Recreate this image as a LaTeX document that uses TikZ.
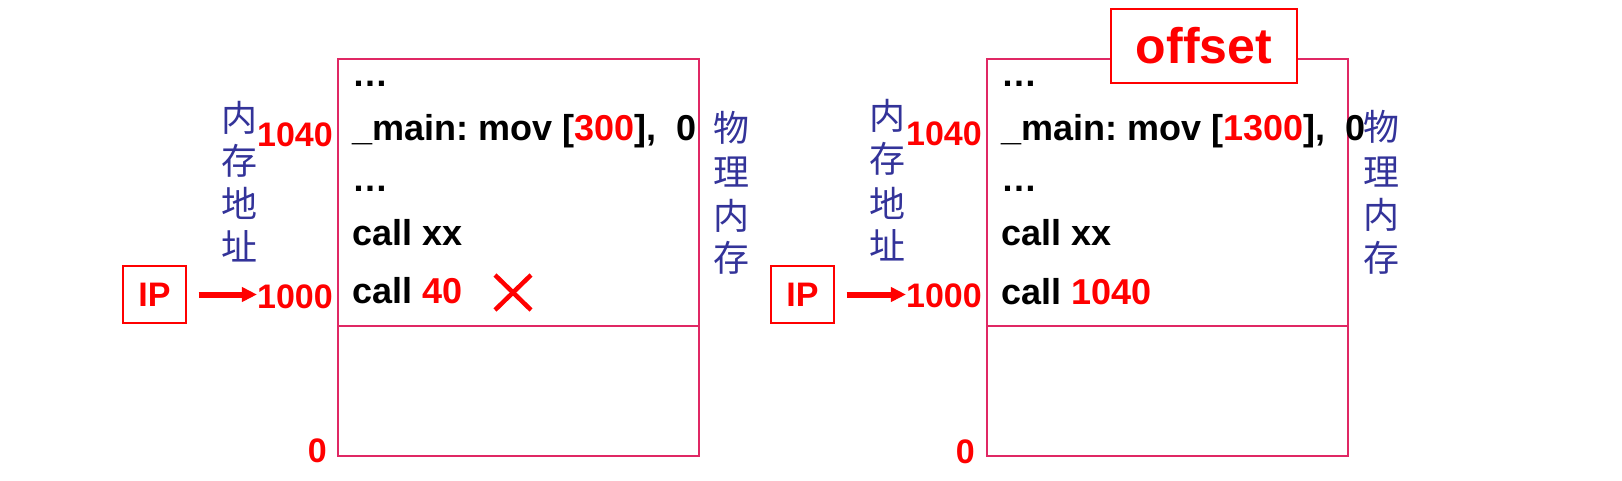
\documentclass[tikz,border=0pt]{standalone}
\usepackage{fontspec}
\setmainfont{Liberation Sans}
\newfontfamily\cjkfnt{Noto Sans CJK SC}
\usetikzlibrary{arrows.meta}
\definecolor{memc}{RGB}{224,40,100}
\definecolor{cjkblue}{RGB}{51,51,153}
\definecolor{xred}{RGB}{255,0,0}
\frenchspacing
\begin{document}
\begin{tikzpicture}[x=1pt,y=-1pt,
  memline/.style={draw=memc,line width=1.6pt},
  code/.style={anchor=base west,inner sep=0pt,font=\fontsize{36}{40}\selectfont\bfseries},
  addr/.style={anchor=base east,inner sep=0pt,text=xred,font=\fontsize{34}{40}\selectfont\bfseries},
  ipbox/.style={draw=xred,line width=1.3pt,minimum width=63pt,minimum height=57pt,inner sep=0pt,text=xred,font=\fontsize{34}{40}\selectfont\bfseries},
  ipar/.style={draw=xred,line width=6pt,-{Triangle[length=15pt,width=14pt]},shorten <=12pt},
  cjkch/.style={inner sep=0pt,text=cjkblue,font=\fontsize{36}{40}\selectfont\cjkfnt},
  xmark/.style={draw=xred,line width=4.5pt},
  offbox/.style={draw=xred,fill=white,line width=1.5pt,minimum width=186pt,minimum height=74pt,inner sep=0pt,text=xred,font=\fontsize{50}{56}\selectfont\bfseries}
]
\useasboundingbox (0,0) rectangle (1622,480);

% ---------- left memory ----------
\draw[memline] (338,59) rectangle (699,456);
\draw[memline] (338,326) -- (699,326);
\node[code] (l1) at (352,86) {…};
\node[code] (l2) at (352,140) {\_main: mov [{\color{xred}300}],\ \ 0};
\node[code] (l3) at (352,191) {…};
\node[code] (l4) at (352,245) {call xx};
\node[code] (l5) at (352,303) {call {\color{xred}40}};
\draw[xmark] (495,275) -- (531,310) (495,310) -- (531,275);

\node[addr] (a1040L) at (333,146) {1040};
\node[addr] (a1000L) at (333,308) {1000};
\node[addr] (a0L) at (327,462) {0};

\node[ipbox] (ipL) at (154.5,294.5) {IP};
\draw[ipar] (ipL.east) -- (ipL.east -| a1000L.west);

\node[cjkch] (nL1) at (239,118) {内};
\node[cjkch] (nL2) at (239,161) {存};
\node[cjkch] (nL3) at (239,203) {地};
\node[cjkch] (nL4) at (239,246) {址};

\node[cjkch] (wL1) at (731,128) {物};
\node[cjkch] (wL2) at (731,172) {理};
\node[cjkch] (wL3) at (731,216) {内};
\node[cjkch] (wL4) at (731,258) {存};

% ---------- right memory ----------
\draw[memline] (987,59) rectangle (1348,456);
\draw[memline] (987,326) -- (1348,326);
\node[offbox] (off) at (1204,46) {offset};
\node[code] (r1) at (1001,86) {…};
\node[code] (r2) at (1001,140) {\_main: mov [{\color{xred}1300}],\ \ 0};
\node[code] (r3) at (1001,191) {…};
\node[code] (r4) at (1001,245) {call xx};
\node[code] (r5) at (1001,304) {call {\color{xred}1040}};

\node[addr] (a1040R) at (982,145) {1040};
\node[addr] (a1000R) at (982,307) {1000};
\node[addr] (a0R) at (975,463) {0};

\node[ipbox] (ipR) at (802.5,294.5) {IP};
\draw[ipar] (ipR.east) -- (ipR.east -| a1000R.west);

\node[cjkch] (nR1) at (887,116) {内};
\node[cjkch] (nR2) at (887,159) {存};
\node[cjkch] (nR3) at (887,203) {地};
\node[cjkch] (nR4) at (887,245) {址};

\node[cjkch] (wR1) at (1381,127) {物};
\node[cjkch] (wR2) at (1381,172) {理};
\node[cjkch] (wR3) at (1381,215) {内};
\node[cjkch] (wR4) at (1381,258) {存};
\end{tikzpicture}
\end{document}
